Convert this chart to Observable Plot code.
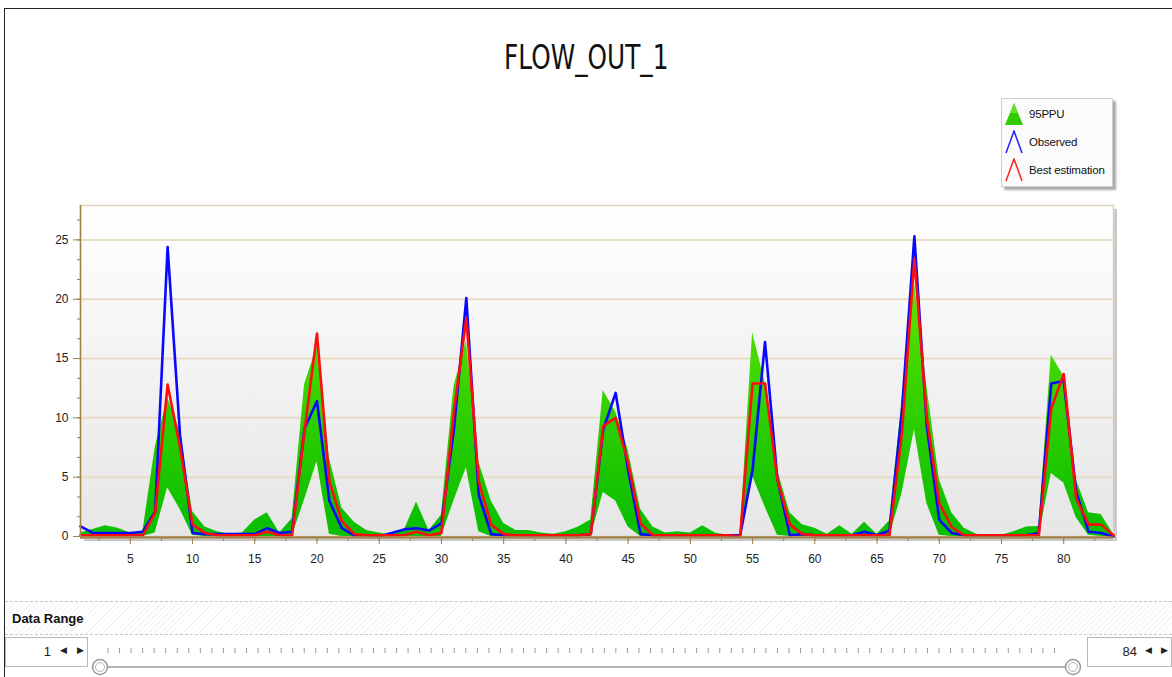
<!DOCTYPE html>
<html>
<head>
<meta charset="utf-8">
<script src="https://cdn.jsdelivr.net/npm/d3@7"></script>
<script src="https://cdn.jsdelivr.net/npm/@observablehq/plot@0.6"></script>
<style>
  html, body { margin: 0; padding: 0; background: #fff; }
  body { width: 1172px; height: 677px; overflow: hidden; position: relative;
         font-family: "Liberation Sans", Arial, sans-serif; }
  #frame-left { position: absolute; left: 4px; top: 8px; width: 1px; height: 669px; background: #222; }
  #frame-top { position: absolute; left: 4px; top: 8px; width: 1168px; height: 1px; background: #222; }
  #title { position: absolute; left: 0; width: 1172px; top: 38px; text-align: center;
           font-family: "DejaVu Sans", sans-serif; font-size: 33px; color: #111;
           transform: scaleX(0.75); transform-origin: 587px 0; }
  #chart { position: absolute; left: 0; top: 0; }
  #legend { position: absolute; left: 1001px; top: 98px; width: 110px; height: 87px;
            background: #fbfbfb; border: 1px solid #cfcfcf; box-shadow: 3px 3px 2px #a9a9a9;
            font-size: 11.5px; color: #111; white-space: nowrap; letter-spacing: -0.2px; }
  .item { position: absolute; left: 2px; height: 26px; display: flex; align-items: center; }
  .item svg { margin-right: 5px; }
  #range { position: absolute; left: 5px; top: 601px; width: 1167px; height: 32px;
           border-top: 1px dashed #c8c8c8; border-bottom: 1px dashed #c8c8c8;
           background: repeating-linear-gradient(135deg, #fff 0 3px, #f4f4f4 3px 4px); }
  #range span { position: absolute; left: 7px; top: 9px; font-weight: bold; font-size: 13px; color: #111; }
  .spin { position: absolute; top: 637px; height: 28px; border: 1px solid #b8b8b8; background: #fff;
          font-size: 13px; color: #222; }
  .spin .val { position: absolute; top: 6px; text-align: right; }
  .spin .arr { position: absolute; top: 7px; font-size: 9px; }
  #slider { position: absolute; left: 0; top: 630px; }
</style>
</head>
<body>
<div id="frame-left"></div>
<div id="frame-top"></div>
<div id="chart"></div>
<div id="title">FLOW_OUT_1</div>
<div id="legend">
  <div class="item" style="top:2px">
    <svg width="20" height="24"><polygon points="10,1 19,23 1,23" fill="#33cc00"/><polygon points="10,1 14,11 6,11" fill="#66e02a"/></svg>95PPU
  </div>
  <div class="item" style="top:30px">
    <svg width="20" height="24"><polyline points="2,23 10,1 18,23" fill="none" stroke="#2020ff" stroke-width="1.5"/></svg>Observed
  </div>
  <div class="item" style="top:58px">
    <svg width="20" height="24"><polyline points="2,23 10,1 18,23" fill="none" stroke="#ff2020" stroke-width="1.5"/></svg>Best estimation
  </div>
</div>
<div id="range"><span>Data Range</span></div>
<div class="spin" style="left:5px;width:81px">
  <span class="val" style="right:36px">1</span>
  <span class="arr" style="left:54px">&#9664;</span><span class="arr" style="left:71px">&#9654;</span>
</div>
<div class="spin" style="left:1087px;width:83px">
  <span class="val" style="right:34px">84</span>
  <span class="arr" style="left:57px">&#9664;</span><span class="arr" style="left:73px">&#9654;</span>
</div>
<svg id="slider" width="1172" height="47"></svg>
<script>
// Time steps of the simulation
const steps = d3.range(1, 85);

// Observed discharge
const observed = [
  0.85, 0.3, 0.3, 0.3, 0.3, 0.4, 2.1, 24.4, 8.5, 0.3,
  0.2, 0.2, 0.2, 0.2, 0.2, 0.7, 0.3, 0.4, 9.1, 11.4,
  3.0, 0.7, 0.1, 0.1, 0.0, 0.3, 0.6, 0.7, 0.5, 1.1,
  9.0, 20.1, 3.5, 0.2, 0.1, 0.1, 0.1, 0.1, 0.1, 0.1,
  0.1, 0.2, 9.0, 12.1, 5.6, 0.2, 0.1, 0.1, 0.1, 0.1,
  0.1, 0.1, 0.1, 0.1, 5.6, 16.4, 4.8, 0.1, 0.2, 0.1,
  0.1, 0.1, 0.1, 0.4, 0.1, 0.5, 10.6, 25.3, 9.3, 1.4,
  0.3, 0.1, 0.1, 0.1, 0.1, 0.1, 0.1, 0.3, 12.9, 13.1,
  3.8, 0.4, 0.3, 0.0
];

// Best estimation (simulated)
const bestEstimation = [
  0.1, 0.1, 0.1, 0.1, 0.1, 0.1, 2.0, 12.8, 7.5, 1.0,
  0.3, 0.1, 0.1, 0.1, 0.1, 0.4, 0.1, 0.1, 8.9, 17.1,
  4.6, 1.3, 0.2, 0.1, 0.1, 0.1, 0.1, 0.4, 0.1, 0.3,
  10.5, 18.4, 4.6, 1.0, 0.2, 0.1, 0.1, 0.1, 0.1, 0.1,
  0.1, 0.2, 9.3, 10.0, 6.2, 1.1, 0.1, 0.1, 0.1, 0.1,
  0.1, 0.1, 0.1, 0.0, 12.9, 12.9, 4.8, 1.0, 0.2, 0.1,
  0.1, 0.1, 0.1, 0.1, 0.1, 0.1, 8.7, 23.4, 10.0, 2.8,
  0.8, 0.1, 0.1, 0.1, 0.1, 0.1, 0.1, 0.1, 10.8, 13.7,
  3.2, 1.0, 1.0, 0.1
];

// 95PPU band, lower and upper bounds
const ppuLower = [
  0, 0, 0, 0, 0, 0, 0.3, 4.1, 2.3, 0.1,
  0, 0, 0, 0, 0, 0, 0, 0, 3.1, 6.3,
  0.2, 0, 0, 0, 0, 0, 0, 0, 0, 0,
  3.0, 5.8, 0.4, 0, 0, 0, 0, 0, 0, 0,
  0, 0, 3.7, 3.0, 0.8, 0, 0, 0, 0, 0,
  0, 0, 0, 0, 5.1, 2.5, 0.1, 0, 0, 0,
  0, 0, 0, 0, 0, 0, 3.6, 9.0, 2.8, 0.1,
  0, 0, 0, 0, 0, 0, 0, 0, 5.3, 4.5,
  1.6, 0.1, 0, 0
];
const ppuUpper = [
  0.3, 0.6, 0.9, 0.7, 0.3, 0.3, 7.5, 11.7, 8.9, 2.1,
  0.8, 0.4, 0.2, 0.3, 1.4, 2.0, 0.3, 1.5, 12.8, 16.0,
  6.6, 2.4, 1.2, 0.5, 0.3, 0.1, 0.5, 2.9, 0.5, 1.8,
  12.6, 16.5, 6.3, 3.0, 1.1, 0.5, 0.5, 0.3, 0.2, 0.4,
  0.8, 1.4, 12.3, 10.5, 7.3, 2.3, 0.8, 0.3, 0.4, 0.3,
  0.9, 0.3, 0.1, 0.1, 17.2, 13.0, 5.6, 2.0, 1.0, 0.7,
  0.2, 0.9, 0.2, 1.2, 0.2, 1.3, 11.3, 21.5, 12.7, 4.8,
  2.0, 0.7, 0.2, 0.1, 0.1, 0.4, 0.8, 0.85, 15.3, 13.5,
  4.8, 2.0, 1.85, 0.2
];

const yTicks = [0, 5, 10, 15, 20, 25];
const xTicks = d3.range(5, 84, 5);
const yMinor = d3.range(0, 28, 5 / 3);
const xMinor = d3.range(2.5, 84, 2.5);

const rows = steps.map((s, k) => ({
  step: s, observed: observed[k], best: bestEstimation[k], lo: ppuLower[k], hi: ppuUpper[k]
}));

const axisColor = "#a08249";
const font = '"Liberation Sans", Arial, sans-serif';

const chart = Plot.plot({
  width: 1172,
  height: 600,
  marginLeft: 80,
  marginRight: 59,
  marginTop: 205,
  marginBottom: 64,
  x: { domain: [1, 84] },
  y: { domain: [0, 27.9] },
  style: { background: "transparent", fontFamily: font, fontSize: "12px", color: "#222" },
  marks: [
    Plot.frame({ fill: "url(#plotBg)", stroke: "#ddd2bb", strokeWidth: 1.5 }),
    Plot.ruleY(yTicks.filter(d => d > 0), { stroke: "#e7dcc6", strokeWidth: 2 }),
    Plot.areaY(rows, { x: "step", y1: "lo", y2: "hi", fill: "url(#ppuFill)" }),
    Plot.lineY(rows, { x: "step", y: "observed", stroke: "#0808ff", strokeWidth: 2.6 }),
    Plot.lineY(rows, { x: "step", y: "best", stroke: "#ff0d0d", strokeWidth: 2.6 }),
    Plot.ruleX([1], { stroke: axisColor, strokeWidth: 1.5 }),
    Plot.ruleY([0], { stroke: axisColor, strokeWidth: 2.5, dy: 1 }),
    Plot.axisY(yMinor, { tickSize: 3, tickFormat: () => "", stroke: axisColor, label: null }),
    Plot.axisY(yTicks, { tickSize: 7, tickPadding: 5, stroke: axisColor, fill: "#222", label: null }),
    Plot.axisX(xMinor, { tickSize: 4, tickFormat: () => "", stroke: axisColor, label: null, dy: 1 }),
    Plot.axisX(xTicks, { tickSize: 7, tickPadding: 10, stroke: axisColor, fill: "#222", label: null, dy: 1 })
  ]
});

// Gradient fills for the plot background and the uncertainty band
const svgNS = "http://www.w3.org/2000/svg";
const defs = document.createElementNS(svgNS, "defs");
defs.innerHTML = `
  <linearGradient id="plotBg" x1="0" y1="0" x2="0" y2="1">
    <stop offset="0" stop-color="#ffffff"/>
    <stop offset="1" stop-color="#e6e6e6"/>
  </linearGradient>
  <linearGradient id="ppuFill" gradientUnits="userSpaceOnUse" x1="0" y1="250" x2="0" y2="520">
    <stop offset="0" stop-color="#6ae800"/>
    <stop offset="0.45" stop-color="#3ed600"/>
    <stop offset="1" stop-color="#0cbf00"/>
  </linearGradient>`;
chart.insertBefore(defs, chart.firstChild);

// Soft shadow along the right and bottom edges of the plotting area
const shadow = document.createElementNS(svgNS, "path");
shadow.setAttribute("d", "M1114,209 L1117,209 L1117,541 L84,541 L84,539 L1114,539 Z");
shadow.setAttribute("fill", "#c9c9c9");
chart.insertBefore(shadow, defs.nextSibling);

document.getElementById("chart").appendChild(chart);

// Range slider under the chart
const slider = d3.select("#slider");
const sx = d3.scaleLinear().domain([1, 84]).range([108, 1066]);
slider.selectAll("line.tick").data(steps.slice(0, 83)).join("line")
  .attr("class", "tick")
  .attr("x1", d => sx(d)).attr("x2", d => sx(d))
  .attr("y1", 18).attr("y2", 23)
  .attr("stroke", "#9a9a9a");
slider.append("line").attr("x1", 100).attr("x2", 1073).attr("y1", 37).attr("y2", 37)
  .attr("stroke", "#9a9a9a").attr("stroke-width", 1.5);
for (const cx of [100, 1073]) {
  slider.append("circle").attr("cx", cx).attr("cy", 37).attr("r", 7.5)
    .attr("fill", "#fff").attr("stroke", "#9a9a9a").attr("stroke-width", 1.5);
  slider.append("circle").attr("cx", cx).attr("cy", 37).attr("r", 4.5)
    .attr("fill", "#fff").attr("stroke", "#b5b5b5").attr("stroke-width", 1);
}
</script>
</body>
</html>
